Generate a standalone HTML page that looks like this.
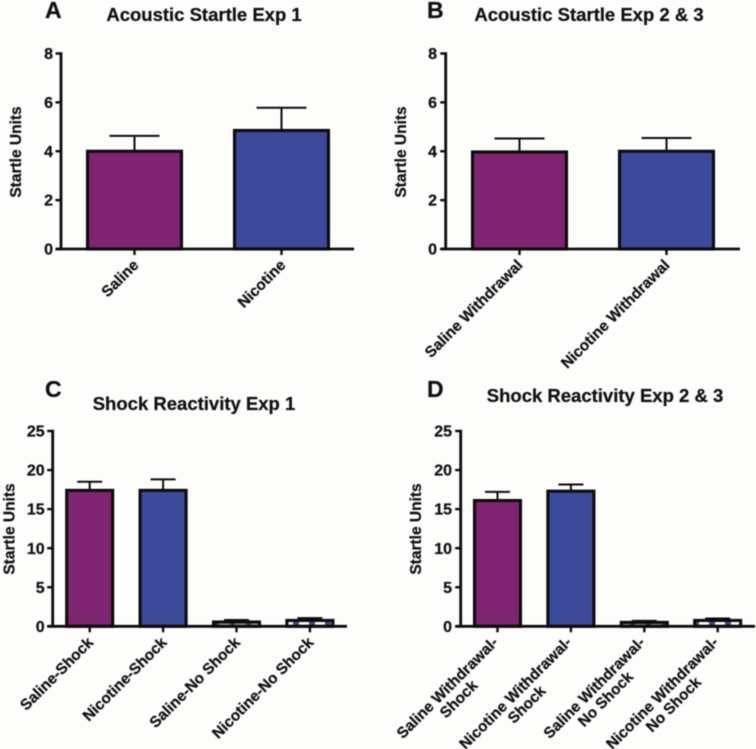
<!DOCTYPE html>
<html>
<head>
<meta charset="utf-8">
<title>Startle panels</title>
<style>
html,body{margin:0;padding:0;background:#fdfdfb;}
svg{display:block;filter:blur(0.45px);}
text{font-family:"Liberation Sans",sans-serif;font-weight:bold;fill:#111;stroke:#111;stroke-width:0.25px;}
.title{font-size:18.5px;text-anchor:middle;}
.letter{font-size:23px;}
.ytitle{font-size:15.5px;text-anchor:middle;}
.tick{font-size:16px;text-anchor:end;}
.xlab{font-size:15.3px;}
</style>
</head>
<body>
<svg id="fig" xmlns="http://www.w3.org/2000/svg" width="756" height="749" viewBox="0 0 756 749">
<defs>
<pattern id="faint-purple" patternUnits="userSpaceOnUse" width="16" height="4"><rect width="16" height="4" fill="#b5b0b0"/><rect x="6" width="5" height="4" fill="#7f2470"/></pattern>
<pattern id="faint-blue" patternUnits="userSpaceOnUse" width="16" height="4"><rect width="16" height="4" fill="#fdfdfb"/><rect x="5" width="6" height="4" fill="#3b4a9b"/></pattern>
</defs>
<rect width="756" height="749" fill="#fdfdfb"/>
<g id="panel-a">
<text class="letter" x="45" y="18">A</text>
<text class="title" x="204" y="21">Acoustic Startle Exp 1</text>
<text class="ytitle" transform="translate(21,152) rotate(-90)">Startle Units</text>
</g>
<g id="panel-b">
<text class="letter" x="427" y="18">B</text>
<text class="title" x="589" y="21">Acoustic Startle Exp 2 &amp; 3</text>
<text class="ytitle" transform="translate(406,152) rotate(-90)">Startle Units</text>
</g>
<g id="panel-c">
<text class="letter" x="45" y="397">C</text>
<text class="title" x="194" y="410">Shock Reactivity Exp 1</text>
<text class="ytitle" transform="translate(14.5,529) rotate(-90)">Startle Units</text>
</g>
<g id="panel-d">
<text class="letter" x="427" y="397">D</text>
<text class="title" x="605" y="402">Shock Reactivity Exp 2 &amp; 3</text>
<text class="ytitle" transform="translate(421,529) rotate(-90)">Startle Units</text>
</g>
</svg>
<script>
// Chart data
const ticksAcoustic = [0, 2, 4, 6, 8];
const ticksShock = [0, 5, 10, 15, 20, 25];

const categoriesA = [["Saline"], ["Nicotine"]];
const meansA = [4.0, 4.85];
const errorTopsA = [4.63, 5.78];

const categoriesB = [["Saline Withdrawal"], ["Nicotine Withdrawal"]];
const meansB = [3.97, 4.0];
const errorTopsB = [4.52, 4.54];

const categoriesC = [["Saline-Shock"], ["Nicotine-Shock"], ["Saline-No Shock"], ["Nicotine-No Shock"]];
const meansC = [17.4, 17.4, 0.55, 0.75];
const errorTopsC = [18.5, 18.8, 0.8, 1.05];

const categoriesD = [["Saline Withdrawal-", "Shock"], ["Nicotine Withdrawal-", "Shock"], ["Saline Withdrawal-", "No Shock"], ["Nicotine Withdrawal-", "No Shock"]];
const meansD = [16.1, 17.3, 0.5, 0.75];
const errorTopsD = [17.2, 18.15, 0.7, 1.0];

const NS = "http://www.w3.org/2000/svg";
const INK = "#0c0c0c";

function make(parent, tag, attrs, text) {
  const el = document.createElementNS(NS, tag);
  for (const k in attrs) el.setAttribute(k, attrs[k]);
  if (text !== undefined) el.textContent = text;
  parent.appendChild(el);
  return el;
}

function drawPanel(cfg) {
  const root = document.getElementById(cfg.id);
  const max = cfg.ticks[cfg.ticks.length - 1];
  const yOf = v => cfg.y0 - (v / max) * (cfg.y0 - cfg.yTop);
  const xOf = i => cfg.firstX + i * cfg.stepX;

  cfg.means.forEach((m, i) => {
    const cx = xOf(i);
    const top = yOf(cfg.tops[i]);
    const bar = yOf(m);

    const errLine = make(root, "line", {x1: cx, x2: cx, y1: top, y2: bar, stroke: INK, "stroke-width": 2});
    
    

    const errCap = make(root, "line", {x1: cx - cfg.capW / 2, x2: cx + cfg.capW / 2, y1: top, y2: top, stroke: INK, "stroke-width": 2});
    
    

    const fills = i % 2 === 0 ? ["#7f2470", "url(#faint-purple)"] : ["#3b4a9b", "url(#faint-blue)"];
    const small = cfg.y0 - bar < 12;
    const rect = make(root, "rect", {
      x: cx - cfg.barW / 2, y: bar, width: cfg.barW, height: Math.max(cfg.y0 - bar, 0),
      fill: small ? fills[1] : fills[0], stroke: INK, "stroke-width": 3.1
    });
    
    

    const xTick = make(root, "line", {x1: cx, x2: cx, y1: cfg.y0, y2: cfg.y0 + 6, stroke: INK, "stroke-width": 2.4});
    
    

    const lines = cfg.categories[i];
    const group = make(root, "g", {transform: "translate(" + (cx + cfg.labelDx) + "," + (cfg.y0 + cfg.labelDy) + ") rotate(-45)"});
    
    
    const first = make(group, "text", {class: "xlab", "text-anchor": "end", x: 0, y: 0}, lines[0]);
    if (lines.length > 1) {
      const mid = -first.getComputedTextLength() / 2;
      make(group, "text", {class: "xlab", "text-anchor": "middle", x: mid, y: 16}, lines[1]);
    }
  });

  const yAxis = make(root, "line", {x1: cfg.axisX, x2: cfg.axisX, y1: cfg.yTop - 1.3, y2: cfg.y0 + 1.3, stroke: INK, "stroke-width": 2.8});
  
  

  const xAxis = make(root, "line", {x1: cfg.axisX - 5.5, x2: cfg.axisEnd, y1: cfg.y0, y2: cfg.y0, stroke: INK, "stroke-width": 2.8});
  
  

  cfg.ticks.forEach(t => {
    const y = yOf(t);
    const tick = make(root, "line", {x1: cfg.axisX - 5.5, x2: cfg.axisX, y1: y, y2: y, stroke: INK, "stroke-width": 2.4});
    
    

    const label = make(root, "text", {class: "tick", x: cfg.tickEnd, y: y + 5.6}, String(t));
    
    
  });
}

drawPanel({id: "panel-a", ticks: ticksAcoustic, categories: categoriesA, means: meansA, tops: errorTopsA,
  axisX: 61, axisEnd: 354, y0: 249, yTop: 53.5, firstX: 134.5, stepX: 147, barW: 94, capW: 50, tickEnd: 53, labelDx: 5, labelDy: 17});
drawPanel({id: "panel-b", ticks: ticksAcoustic, categories: categoriesB, means: meansB, tops: errorTopsB,
  axisX: 445.7, axisEnd: 740, y0: 249, yTop: 53.5, firstX: 519.5, stepX: 147, barW: 94, capW: 50, tickEnd: 437, labelDx: 4, labelDy: 17});
drawPanel({id: "panel-c", ticks: ticksShock, categories: categoriesC, means: meansC, tops: errorTopsC,
  axisX: 52.7, axisEnd: 347, y0: 626.3, yTop: 431, firstX: 89.7, stepX: 73.4, barW: 46, capW: 25, tickEnd: 44.7, labelDx: 4.5, labelDy: 17});
drawPanel({id: "panel-d", ticks: ticksShock, categories: categoriesD, means: meansD, tops: errorTopsD,
  axisX: 460.7, axisEnd: 755, y0: 626.3, yTop: 431, firstX: 497.5, stepX: 73.4, barW: 46, capW: 25, tickEnd: 452, labelDx: 1.5, labelDy: 17});
</script>
</body>
</html>
